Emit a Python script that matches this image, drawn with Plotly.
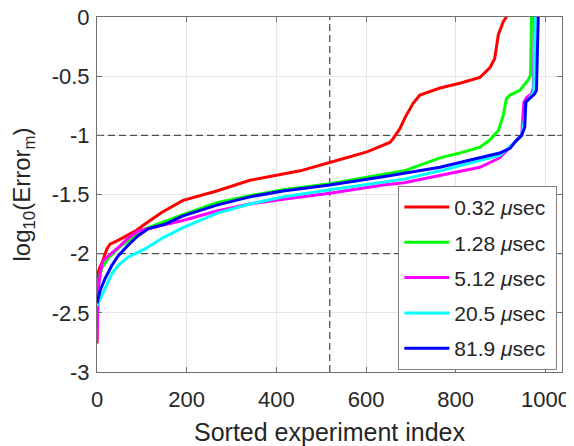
import plotly.graph_objects as go

# ---- data ----
series_names = ["0.32 <i>μ</i>sec\u00a0", "1.28 <i>μ</i>sec\u00a0", "5.12 <i>μ</i>sec\u00a0", "20.5 <i>μ</i>sec\u00a0", "81.9 <i>μ</i>sec\u00a0"]
series_colors = ["#FF0000", "#00FF00", "#FF00FF", "#00FFFF", "#0000FF"]

red_x = [0, 1, 2, 6, 11, 22, 29, 46, 85, 107, 145, 192, 267, 341, 401, 453, 519, 602, 653, 660, 676, 687, 705, 720, 765, 809, 854, 876, 887, 895, 906, 913, 930]
red_y = [-2.76, -2.45, -2.17, -2.12, -2.08, -1.96, -1.92, -1.89, -1.81, -1.75, -1.65, -1.55, -1.47, -1.38, -1.34, -1.30, -1.23, -1.14, -1.06, -1.03, -0.94, -0.85, -0.73, -0.66, -0.60, -0.56, -0.51, -0.43, -0.35, -0.15, -0.04, 0.0, 0.3]

green_x = [0, 2, 5, 11, 25, 40, 55, 78, 100, 129, 192, 267, 341, 415, 519, 685, 765, 809, 854, 876, 895, 906, 913, 921, 943, 962, 967, 969, 975]
green_y = [-2.42, -2.3, -2.2, -2.12, -2.04, -1.98, -1.93, -1.87, -1.80, -1.76, -1.67, -1.57, -1.51, -1.46, -1.41, -1.30, -1.19, -1.15, -1.10, -1.04, -0.96, -0.83, -0.69, -0.66, -0.62, -0.53, -0.49, 0.0, 0.3]

magenta_x = [0, 1, 3, 7, 13, 25, 47, 69, 91, 145, 192, 267, 341, 415, 519, 638, 685, 854, 898, 921, 943, 947, 952, 958, 969, 973, 976, 980]
magenta_y = [-2.74, -2.5, -2.3, -2.17, -2.06, -2.02, -1.95, -1.87, -1.81, -1.76, -1.72, -1.64, -1.58, -1.54, -1.49, -1.42, -1.40, -1.27, -1.19, -1.10, -1.02, -1.0, -0.72, -0.68, -0.65, -0.60, 0.0, 0.3]

cyan_x = [0, 18, 33, 47, 69, 107, 145, 192, 267, 341, 415, 519, 685, 765, 898, 932, 947, 954, 958, 969, 974, 977, 980]
cyan_y = [-2.44, -2.29, -2.17, -2.10, -2.03, -1.96, -1.87, -1.78, -1.66, -1.58, -1.52, -1.46, -1.37, -1.30, -1.17, -1.06, -1.0, -0.85, -0.72, -0.66, -0.63, 0.0, 0.3]

blue_x = [0, 7, 18, 33, 47, 69, 91, 114, 152, 192, 267, 341, 415, 519, 638, 685, 765, 809, 854, 898, 921, 936, 947, 954, 956, 965, 976, 980, 982, 986]
blue_y = [-2.42, -2.31, -2.21, -2.10, -2.02, -1.93, -1.85, -1.79, -1.75, -1.68, -1.59, -1.52, -1.47, -1.42, -1.35, -1.32, -1.27, -1.23, -1.19, -1.15, -1.11, -1.04, -1.0, -0.93, -0.72, -0.69, -0.65, -0.62, 0.0, 0.3]

x_ticks = [0, 200, 400, 600, 800, 1000]
y_ticks = [0, -0.5, -1, -1.5, -2, -2.5, -3]
y_tick_labels = ["0", "-0.5", "-1", "-1.5", "-2", "-2.5", "-3"]
x_range = [0, 1037]
y_range = [-3, 0]
vline_x = 519
hline_ys = [-1, -2]

xs = [red_x, green_x, magenta_x, cyan_x, blue_x]
ys = [red_y, green_y, magenta_y, cyan_y, blue_y]

font_family = "Liberation Sans, Arial, sans-serif"
dash_col = "#505050"

fig = go.Figure()
# dashed reference lines (drawn first so they sit beneath the curves)
fig.add_trace(go.Scatter(x=[vline_x, vline_x], y=y_range, mode="lines", showlegend=False,
                         hoverinfo="skip", line=dict(color=dash_col, width=1.3, dash="7px,4px")))
for hy in hline_ys:
    fig.add_trace(go.Scatter(x=x_range, y=[hy, hy], mode="lines", showlegend=False,
                             hoverinfo="skip", line=dict(color=dash_col, width=1.3, dash="7px,4px")))

for i, (name, col, xv, yv) in enumerate(zip(series_names, series_colors, xs, ys)):
    fig.add_trace(go.Scatter(x=xv, y=yv, mode="lines", name=name,
                             line=dict(color=col, width=3),
                             legendgroup=f"g{i}"))

axis_common = dict(showline=True, linecolor="#707070", linewidth=1, mirror="ticks",
                   ticks="inside", ticklen=5, tickcolor="#707070", automargin=False,
                   ticklabeloverflow="allow",
                   showgrid=True, gridcolor="#E6E6E6", gridwidth=1, zeroline=False,
                   tickfont=dict(family=font_family, size=22, color="#262626"))

# the page body adds an 8px offset; the figure size compensates for it
fig.update_layout(
    width=566, height=438,
    margin=dict(l=89, r=12, t=9, b=74),
    paper_bgcolor="white", plot_bgcolor="white",
    font=dict(family=font_family, color="#262626"),
    xaxis=dict(range=x_range, tickvals=x_ticks, ticklabelstandoff=8, **axis_common,
               title=dict(text="Sorted experiment index", font=dict(size=25, family=font_family, color="#262626"), standoff=22)),
    yaxis=dict(range=y_range, tickvals=y_ticks, ticktext=y_tick_labels, ticklabelstandoff=2, **axis_common,
               title=dict(text="log<sub>10</sub>(Error<sub>m</sub>)", font=dict(size=24, family=font_family, color="#262626"), standoff=19)),
    legend=dict(x=0.99, y=0.006, xanchor="right", yanchor="bottom",
                bgcolor="white", bordercolor="#808080", borderwidth=1,
                font=dict(family=font_family, size=21, color="#262626"),
                traceorder="grouped", tracegroupgap=5, itemwidth=45),
    showlegend=True,
)

fig.write_html("out.html")
